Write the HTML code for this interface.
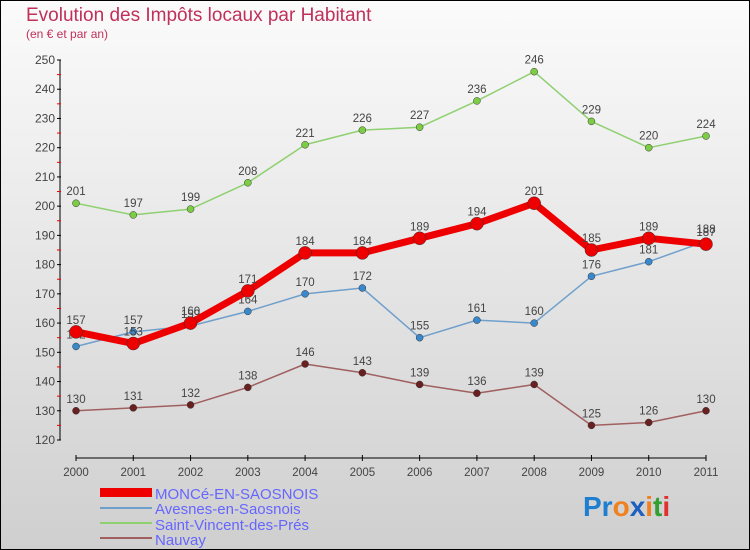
<!DOCTYPE html>
<html><head><meta charset="utf-8"><style>
body{margin:0;}
svg{display:block;font-family:"Liberation Sans",sans-serif;}
</style></head><body>
<svg id="c" width="750" height="550" xmlns="http://www.w3.org/2000/svg">
<defs><linearGradient id="bg" x1="0" y1="0" x2="0" y2="1"><stop offset="0" stop-color="#fbfbfb"/><stop offset="1" stop-color="#cfcfcf"/></linearGradient></defs>
<rect x="0.5" y="0.5" width="749" height="549" fill="url(#bg)" stroke="#000"/>
<text x="26" y="21" font-size="19" fill="#c0305a">Evolution des Impôts locaux par Habitant</text>
<text x="26" y="38" font-size="12" fill="#c0305a">(en € et par an)</text>
<g id="axes"></g><g id="series"></g>
<g>
<rect x="100" y="488" width="52" height="9" fill="#e00"/>
<text x="155" y="499" font-size="15" fill="#6666ff">MONCé-EN-SAOSNOIS</text>
<line x1="100" y1="508" x2="152" y2="508" stroke="#6fa0cc" stroke-width="2"/>
<text x="155" y="514" font-size="15" fill="#6666ff">Avesnes-en-Saosnois</text>
<line x1="100" y1="523" x2="152" y2="523" stroke="#8fd070" stroke-width="2"/>
<text x="155" y="530" font-size="15" fill="#6666ff">Saint-Vincent-des-Prés</text>
<line x1="100" y1="538" x2="152" y2="538" stroke="#a06060" stroke-width="2"/>
<text x="155" y="545" font-size="15" fill="#6666ff">Nauvay</text>
</g>
<g font-size="28" font-weight="bold">
<text x="583" y="516"><tspan fill="#1e7fd0">Pr</tspan><tspan fill="#f08020">o</tspan><tspan fill="#1e60c0">x</tspan><tspan fill="#f08020">i</tspan><tspan fill="#30a030">t</tspan><tspan fill="#e03030">i</tspan></text>
</g>
</svg>
<script>
const years=[2000,2001,2002,2003,2004,2005,2006,2007,2008,2009,2010,2011];
const monce=[157,153,160,171,184,184,189,194,201,185,189,187];
const avesnes=[152,157,159,164,170,172,155,161,160,176,181,188];
const stVincent=[201,197,199,208,221,226,227,236,246,229,220,224];
const nauvay=[130,131,132,138,146,143,139,136,139,125,126,130];
const yTicks=[120,130,140,150,160,170,180,190,200,210,220,230,240,250];
const NS="http://www.w3.org/2000/svg";
const X=i=>76+i*(630/11);
const Y=v=>440-(v-120)*(380/130);
function mk(t,a,p){const e=document.createElementNS(NS,t);for(const k in a)e.setAttribute(k,a[k]);p.appendChild(e);return e;}
const ax=document.getElementById('axes');
let l=mk('line',{x1:60,y1:Y(250),x2:60,y2:Y(120),stroke:'#000'},ax);


yTicks.forEach((v,i)=>{
  mk('line',{x1:57,x2:61,y1:Y(v),y2:Y(v),stroke:'#000'},ax);
  if(i<yTicks.length-1)mk('line',{x1:57,x2:61,y1:Y(v+5),y2:Y(v+5),stroke:'#e00'},ax);
  const t=mk('text',{x:55,y:Y(v)+4,'font-size':12,fill:'#444','text-anchor':'end'},ax);t.textContent=v;
  
  
});
l=mk('line',{x1:X(0),y1:458,x2:X(11),y2:458,stroke:'#000'},ax);


years.forEach((y,i)=>{
  mk('line',{x1:X(i),x2:X(i),y1:455,y2:461,stroke:'#000'},ax);
  const t=mk('text',{x:X(i),y:476,'font-size':11.5,fill:'#444','text-anchor':'middle'},ax);t.textContent=y;
  
  
});
const sg=document.getElementById('series');
function series(name,data,color,w,r,dot){
  const g=mk('g',{},sg);
  
  
  mk('polyline',{points:data.map((v,i)=>X(i)+','+Y(v)).join(' '),fill:'none',stroke:color,'stroke-width':w,'stroke-linejoin':'round'},g);
  data.forEach((v,i)=>{
    const c=mk('circle',{cx:X(i),cy:Y(v),r:r,fill:dot,stroke:'#333','stroke-width':0.5},g);
    
    
    const t=mk('text',{x:X(i),y:Y(v)-8,'font-size':11.5,fill:'#444','text-anchor':'middle'},g);t.textContent=v;
    
    
  });
}
series('series-saint-vincent',stVincent,'#8fd070',1.5,3.5,'#7ccc44');
series('series-nauvay',nauvay,'#a06060',1.5,3.5,'#6a2020');
series('series-avesnes',avesnes,'#6fa0cc',1.5,3.5,'#3a88cc');
series('series-monce',monce,'#e00',7,6.5,'#e00');
</script>
</body></html>
